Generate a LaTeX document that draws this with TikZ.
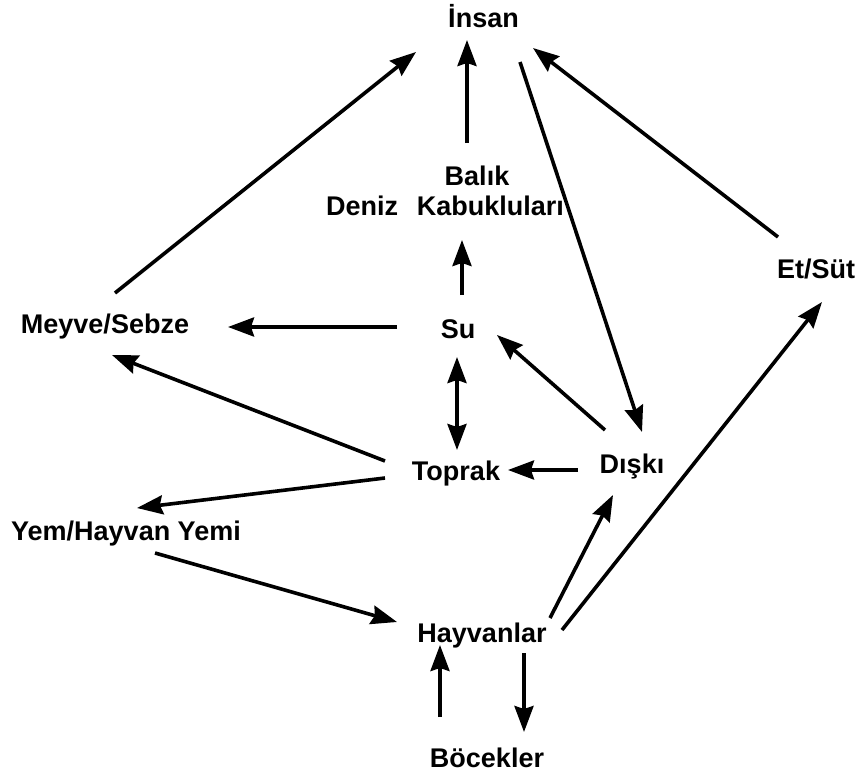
\documentclass[tikz,border=0pt]{standalone}
\usepackage{fontspec}
\setmainfont{Liberation Sans}
\usetikzlibrary{arrows.meta,calc}
\tikzset{
  lbl/.style={font=\fontsize{27}{32}\selectfont\bfseries, inner sep=0pt, anchor=base},
  arr/.style={line width=3.6pt, -{Stealth[length=26pt,width=19pt,inset=3pt]}},
  darr/.style={line width=3.6pt, {Stealth[length=26pt,width=19pt,inset=3pt]}-{Stealth[length=26pt,width=19pt,inset=3pt]}}
}
\begin{document}
\begin{tikzpicture}[x=1pt,y=-1pt]
\useasboundingbox (0,0) rectangle (861,776);
% nodes
\node[lbl] (insan) at (483.5,28) {İnsan};
\node[lbl] (balik) at (477,185) {Balık};
\node[lbl] (deniz) at (445,215) {Deniz\hspace{0.7em}Kabukluları};
\node[lbl] (su) at (458,338) {Su};
\node[lbl] (meyve) at (105,333) {Meyve/Sebze};
\node[lbl] (etsut) at (816,278) {Et/Süt};
\node[lbl] (toprak) at (456,480) {Toprak};
\node[lbl] (diski) at (632,473) {Dışkı};
\node[lbl] (yem) at (126,540) {Yem/Hayvan Yemi};
\node[lbl] (hay) at (482,642) {Hayvanlar};
\node[lbl] (bocek) at (487,767) {Böcekler};
% connectors
\draw[arr] ($(meyve.base)+(10,-40)$) -- ($(insan.base)+(-67.5,24)$);
\draw[arr] ($(balik.base)+(-10,-42)$) -- ($(insan.base)+(-16.5,12)$);
\draw[arr] ($(etsut.base)+(-38,-41)$) -- ($(insan.base)+(49.5,20)$);
\draw[arr] ($(insan.base)+(36.5,34)$) -- ($(diski.base)+(10,-41)$);
\draw[arr] ($(su.base)+(4,-43)$) -- ($(deniz.base)+(17,25)$);
\draw[arr] ($(su.base)+(-61,-11)$) -- ($(meyve.base)+(123,-6)$);
\draw[arr] ($(diski.base)+(-27,-43)$) -- ($(su.base)+(39,-3)$);
\draw[darr] ($(su.base)+(-1,19)$) -- ($(toprak.base)+(1,-30)$);
\draw[arr] ($(toprak.base)+(-71,-19)$) -- ($(meyve.base)+(7,22)$);
\draw[arr] ($(toprak.base)+(-71,-2)$) -- ($(yem.base)+(11,-32)$);
\draw[arr] ($(diski.base)+(-54,-3)$) -- ($(toprak.base)+(52,-10)$);
\draw[arr] ($(yem.base)+(29,13)$) -- ($(hay.base)+(-85,-20)$);
\draw[arr] ($(hay.base)+(68,-24)$) -- ($(diski.base)+(-19,22)$);
\draw[arr] ($(hay.base)+(80,-12)$) -- ($(etsut.base)+(6,24)$);
\draw[arr] ($(bocek.base)+(-47,-50)$) -- ($(hay.base)+(-42,3)$);
\draw[arr] ($(hay.base)+(42,11)$) -- ($(bocek.base)+(37,-35)$);
\end{tikzpicture}
\end{document}
